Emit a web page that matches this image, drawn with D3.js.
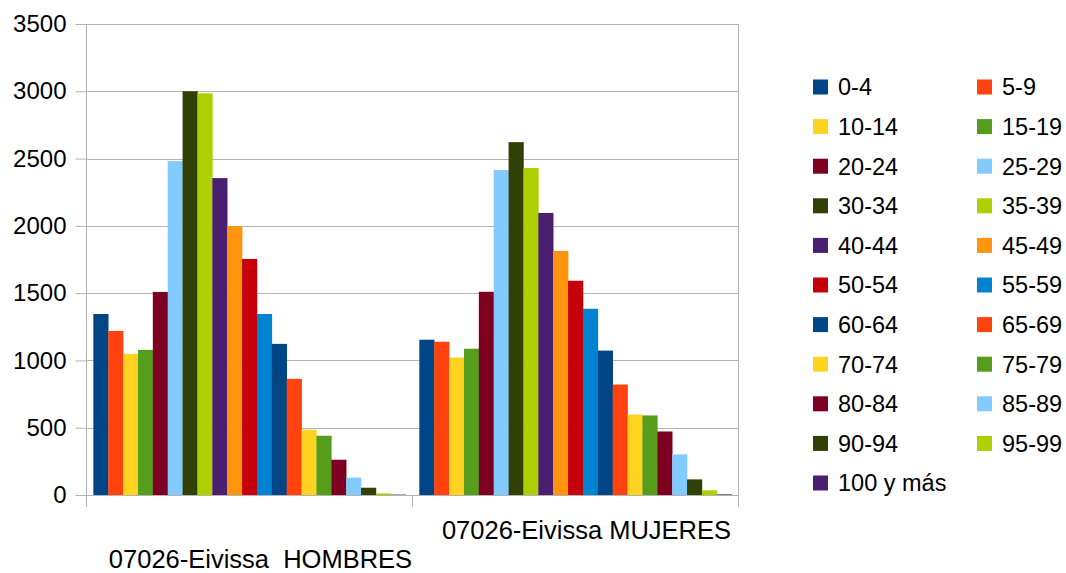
<!DOCTYPE html>
<html><head><meta charset="utf-8">
<script src="https://cdn.jsdelivr.net/npm/d3@7"></script>
<style>body{margin:0;background:#fff;}svg{display:block;font-family:"Liberation Sans",Arial,sans-serif;}</style>
</head><body>
<svg id="c" width="1066" height="573"></svg>
<script>
const categories = ["07026-Eivissa  HOMBRES", "07026-Eivissa MUJERES"];
const ageGroups = ["0-4","5-9","10-14","15-19","20-24","25-29","30-34","35-39","40-44","45-49","50-54","55-59","60-64","65-69","70-74","75-79","80-84","85-89","90-94","95-99","100 y más"];
const hombres = [1345,1219,1049,1078,1509,2481,3000,2985,2355,1999,1754,1345,1123,863,485,440,262,129,54,12,3];
const mujeres = [1154,1139,1021,1087,1510,2415,2622,2430,2096,1814,1592,1384,1073,821,598,591,472,302,116,35,5];
const yTicks = [0,500,1000,1500,2000,2500,3000,3500];
const palette = ["#004586","#ff420e","#ffd320","#579d1c","#7e0021","#83caff","#314004","#aecf00","#4b1f6f","#ff950e","#c5000b","#0084d1"];

const series = [hombres, mujeres];
const svg = d3.select("#c");
const L = 86.5, R = 738.5, T = 24, B = 495;

const y = d3.scaleLinear().domain([0,3500]).range([B,T]);
const x0 = d3.scaleBand().domain(categories).range([L,R]).paddingInner(0).paddingOuter(0);
const x1 = d3.scaleBand().domain(ageGroups).range([0,x0.bandwidth()]).paddingInner(0).paddingOuter(0.46);
const color = d3.scaleOrdinal().domain(ageGroups).range(ageGroups.map((d,i)=>palette[i%palette.length]));

// gridlines
svg.append("g").selectAll("line").data(yTicks).join("line")
  .attr("x1",L).attr("x2",R).attr("y1",d=>Math.round(y(d))+0.5).attr("y2",d=>Math.round(y(d))+0.5)
  .attr("stroke","#b3b3b3").attr("stroke-width",1);

// right border
svg.append("line").attr("x1",R).attr("x2",R).attr("y1",T).attr("y2",B+12)
  .attr("stroke","#b3b3b3");

// y axis
const yAxis = d3.axisLeft(y).tickValues(yTicks).tickSize(11).tickPadding(9).tickFormat(d3.format("d"));
const gy = svg.append("g").attr("transform",`translate(${L},0)`).call(yAxis);
gy.select(".domain").attr("stroke","#b3b3b3").attr("d",`M0,${T}V${B+12}`);
gy.selectAll(".tick line").attr("stroke","#b3b3b3");
gy.selectAll(".tick text").attr("font-size",24).attr("fill","#000").attr("font-family","Liberation Sans, Arial, sans-serif");

// category tick marks
svg.append("g").selectAll("line").data([L, x0(categories[1]), R]).join("line")
  .attr("x1",d=>d).attr("x2",d=>d).attr("y1",B).attr("y2",B+12).attr("stroke","#b3b3b3");

// bars
const groups = svg.append("g").selectAll("g").data(categories).join("g")
  .attr("transform",d=>`translate(${x0(d)},0)`);
groups.selectAll("rect").data((c,ci)=>ageGroups.map((a,i)=>({a, v: series[ci][i]}))).join("rect")
  .attr("x",d=>x1(d.a)).attr("width",x1.bandwidth()+0.3)
  .attr("y",d=>y(d.v)).attr("height",d=>B - y(d.v))
  .attr("fill",d=>color(d.a));

// category labels (staggered)
svg.append("g").selectAll("text").data(categories).join("text")
  .attr("x",(d,i)=>x0(d)+x0.bandwidth()/2+11)
  .attr("y",(d,i)=> i===0 ? 568 : 539)
  .attr("text-anchor","middle").attr("font-size",25.5).attr("fill","#000")
  .style("white-space","pre").attr("xml:space","preserve")
  .text(d=>d);

// legend
const leg = svg.append("g").selectAll("g").data(ageGroups).join("g")
  .attr("transform",(d,i)=>`translate(${813 + (i%2)*164},${87 + Math.floor(i/2)*39.6})`);
leg.append("rect").attr("x",0).attr("y",-7.5).attr("width",15).attr("height",15).attr("fill",d=>color(d));
leg.append("text").attr("x",25).attr("y",0).attr("dy","0.36em").attr("font-size",23.5).attr("fill","#000").text(d=>d);
</script>
</body></html>
